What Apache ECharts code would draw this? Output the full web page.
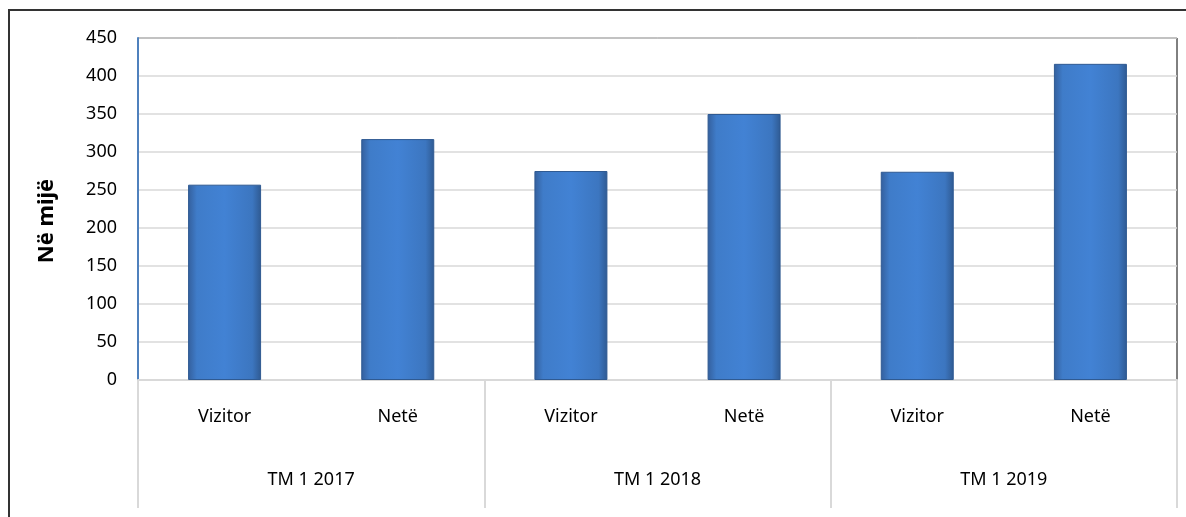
<!DOCTYPE html>
<html>
<head>
<meta charset="utf-8">
<script src="https://cdn.jsdelivr.net/npm/echarts@6/dist/echarts.min.js"></script>
<style>
  * { margin: 0; padding: 0; }
  #chart { width: 1186px; height: 517px; background: #fff; }
</style>
</head>
<body>
<div id="chart"></div>
<script>
// kategoritë
const types = ["Vizitor", "Netë", "Vizitor", "Netë", "Vizitor", "Netë"];
const periods = ["TM 1 2017", "TM 1 2018", "TM 1 2019"];
// vlerat (në mijë)
const values = [257, 317, 275, 350, 274, 416];
const yTicks = { min: 0, max: 450, interval: 50 };

const font = '"Noto Sans", sans-serif';
const chart = echarts.init(document.getElementById("chart"));

chart.setOption({
  animation: false,
  grid: {
    left: 138, right: 9, top: 38, bottom: 137,
    show: true, borderColor: "#000", borderWidth: 1, backgroundColor: "#fff"
  },
  graphic: [{
    type: "rect",
    shape: { x: 9, y: 10, width: 1300, height: 700 },
    style: { fill: "none", stroke: "#333", lineWidth: 2 },
    silent: true
  }],
  xAxis: [
    {
      type: "category",
      data: types,
      position: "bottom",
      axisLine: { show: true, lineStyle: { color: "#d9d9d9", width: 2 } },
      axisTick: { show: false },
      axisLabel: { margin: 28, fontSize: 18, color: "#000", fontFamily: font, interval: 0 }
    },
    {
      type: "category",
      data: periods,
      position: "bottom",
      axisLine: { show: false },
      axisTick: { show: true, length: 128, interval: 0, lineStyle: { color: "#d9d9d9", width: 2 } },
      axisLabel: { margin: 91, fontSize: 18, color: "#000", fontFamily: font, interval: 0 }
    }
  ],
  yAxis: {
    type: "value",
    min: yTicks.min, max: yTicks.max, interval: yTicks.interval,
    name: "Në mijë",
    nameLocation: "middle",
    nameGap: 80,
    nameTextStyle: {
      fontSize: 22, fontWeight: "bold", color: "#000", fontFamily: font,
      padding: [0, 24, 0, 0]
    },
    axisLine: { show: true, lineStyle: { color: "#4f81bd", width: 2 } },
    axisTick: { show: false },
    axisLabel: { margin: 21, fontSize: 18, color: "#000", fontFamily: font },
    splitLine: { lineStyle: { color: "#d9d9d9", width: 1.5 } }
  },
  series: [{
    type: "bar",
    xAxisIndex: 0,
    data: values,
    barWidth: 73,
    itemStyle: {
      borderColor: "#2f5a92",
      borderWidth: 1,
      color: new echarts.graphic.LinearGradient(0, 0, 1, 0, [
        { offset: 0, color: "#345f9c" },
        { offset: 0.12, color: "#3f7cc9" },
        { offset: 0.5, color: "#4282d4" },
        { offset: 0.88, color: "#3c76c0" },
        { offset: 1, color: "#2f5a92" }
      ])
    }
  }]
});
</script>
</body>
</html>
